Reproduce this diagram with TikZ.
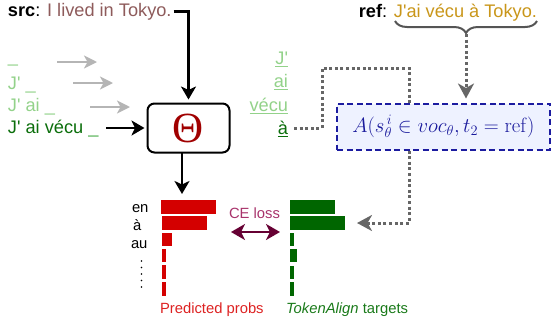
\documentclass[tikz,border=0pt]{standalone}
\usepackage[no-math]{fontspec}
\newfontfamily\arial{Liberation Sans}
\newfontfamily\serifth{Liberation Serif}
\usetikzlibrary{arrows.meta,decorations.pathreplacing,calc}
\definecolor{srcred}{HTML}{8E5B5B}
\definecolor{refgold}{HTML}{C9961A}
\definecolor{lgreen}{HTML}{93D28A}
\definecolor{dgreen}{HTML}{0B6E0B}
\definecolor{mgreen}{HTML}{4FAF4F}
\definecolor{barred}{HTML}{D40000}
\definecolor{bargreen}{HTML}{006600}
\definecolor{textred}{HTML}{DD2222}
\definecolor{textgreen}{HTML}{1A7A1A}
\definecolor{garrow}{HTML}{B5B5B5}
\definecolor{dotgray}{HTML}{666666}
\definecolor{boxblue}{HTML}{1C1CA0}
\definecolor{boxfill}{HTML}{EEF2FF}
\definecolor{formblue}{HTML}{1A1A9C}
\definecolor{cetext}{HTML}{A8336B}
\definecolor{cearrow}{HTML}{660033}
\definecolor{thetacol}{HTML}{A00000}
\definecolor{bracecol}{HTML}{555555}
\newcommand\myul[1]{\setbox0\hbox{#1}\rlap{\rule[-3.2pt]{\wd0}{1.4pt}}\box0}
\begin{document}
\begin{tikzpicture}[x=1pt,y=-1pt,
  font=\arial\fontsize{18.2}{21}\selectfont,
  txt/.style={inner sep=0pt, outer sep=0pt},
  small/.style={txt, font=\arial\fontsize{14.8}{17}\selectfont},
  blk/.style={draw=black, line width=2.5pt, -{Stealth[length=13pt,width=15pt,inset=3.5pt]}},
  gry/.style={draw=garrow, line width=2pt, -{Stealth[length=13pt,width=13pt,inset=3.5pt]}},
  dotl/.style={draw=dotgray, line width=3pt, dash pattern=on 3pt off 2.6pt},
  dotarr/.style={dotl, -{Stealth[length=15pt,width=16pt,inset=4.5pt]}},
  cearr/.style={draw=cearrow, line width=2.4pt, {Stealth[length=14pt,width=16pt,inset=4pt]}-{Stealth[length=14pt,width=16pt,inset=4pt]}},
  rbar/.style={rectangle, fill=barred, inner sep=0pt, outer sep=0pt, anchor=north west},
  gbar/.style={rectangle, fill=bargreen, inner sep=0pt, outer sep=0pt, anchor=north west},
  dotc/.style={fill=black, circle, inner sep=0pt, minimum size=1.9pt}]
\useasboundingbox (0,0) rectangle (552,325);

% source and reference
\node[txt, anchor=base west] (src) at (8,16) {\textbf{src}: \textcolor{srcred}{I lived in Tokyo.}};
\node[txt, anchor=base east] (ref) at (537,17) {\textbf{ref}: \textcolor{refgold}{J'ai vécu à Tokyo.}};

% Theta box
\node[draw=black, line width=2pt, rounded corners=7pt, minimum width=82pt, minimum height=49pt, inner sep=0pt,
      font=\serifth\fontsize{43}{45}\selectfont, text=thetacol] (theta) at (188.5,128) {Θ};

% left prefixes
\node[txt, anchor=base west, text=lgreen] (l1) at (8,62) {\_};
\node[txt, anchor=base west, text=lgreen] (l2) at (8,89) {J' \_};
\node[txt, anchor=base west, text=lgreen] (l3) at (8,111) {J' ai \_};
\node[txt, anchor=base west, text=dgreen] (l4) at (8,133) {J' ai vécu \textcolor{mgreen}{\_}};

\coordinate (a1s) at (57,62);  \coordinate (a1e) at (97,62);
\coordinate (a2s) at (73,83);  \coordinate (a2e) at (113,83);
\coordinate (a3s) at (90,107); \coordinate (a3e) at (130,107);
\coordinate (a4s) at (106,128);
\draw[gry] (a1s) -- (a1e);
\draw[gry] (a2s) -- (a2e);
\draw[gry] (a3s) -- (a3e);
\draw[blk, shorten >=2pt] (a4s) -- (theta.west);

\draw[blk, shorten >=3pt] ([xshift=2pt]src.east) -| (theta.north);

% right target tokens
\node[txt, anchor=base east, text=lgreen] (t1) at (288,64) {\myul{J'}};
\node[txt, anchor=base east, text=lgreen] (t2) at (288,87) {\myul{ai}};
\node[txt, anchor=base east, text=lgreen] (t3) at (288,111) {\myul{vécu}};
\node[txt, anchor=base east, text=dgreen] (t4) at (288,134) {\myul{à}};

% alignment box
\node[draw=boxblue, line width=2pt, dash pattern=on 6pt off 3.5pt, fill=boxfill, minimum width=213pt, minimum height=46pt,
      inner sep=0pt, text=formblue, font=\fontsize{20.5}{24}\selectfont] (fbox) at (443.5,126.5) {$A\big(s_\theta^{\,i}\in voc_\theta, t_2=\mathrm{ref}\big)$};

\coordinate (d0) at (294,128);
\draw[dotl] (d0) -- (322,128) -- (322,68) -| ([xshift=-34.5pt]fbox.north);

% brace
\draw[draw=bracecol, line width=2pt, decorate, decoration={brace, amplitude=12pt, mirror}] (395,21) -- (537,21);
\coordinate (bt) at (466,34);
\draw[dotarr, shorten >=4pt] (bt) -- (bt |- fbox.north);

% bars
\node[rbar, minimum width=55pt, minimum height=14pt] (pb1) at (161,200) {};
\node[rbar, minimum width=45pt, minimum height=14pt] (pb2) at (162,216) {};
\node[rbar, minimum width=10pt, minimum height=13pt] (pb3) at (162,233) {};
\node[rbar, minimum width=4pt, minimum height=13pt] (pb4) at (162,249) {};
\node[rbar, minimum width=4pt, minimum height=14pt] (pb5) at (162,265) {};
\node[rbar, minimum width=4pt, minimum height=14pt] (pb6) at (162,282) {};

\node[gbar, minimum width=45pt, minimum height=14pt] (gb1) at (290,200) {};
\node[gbar, minimum width=55pt, minimum height=14pt] (gb2) at (290,216) {};
\node[gbar, minimum width=4pt, minimum height=13pt] (gb3) at (290,233) {};
\node[gbar, minimum width=7pt, minimum height=13pt] (gb4) at (290,249) {};
\node[gbar, minimum width=4pt, minimum height=13pt] (gb5) at (290,266) {};
\node[gbar, minimum width=4pt, minimum height=14pt] (gb6) at (290,282) {};

% arrow from theta to bars
\coordinate (tb) at (182,153);
\draw[blk, shorten >=6pt] (tb) -- (tb |- pb1.north);

% token labels
\node[small, anchor=base west] (w1) at (132,212) {en};
\node[small, anchor=base west] (w2) at (133,230) {à};
\node[small, anchor=base west] (w3) at (131,248) {au};
\foreach \i/\yy in {1/261,2/267.5,3/274,4/280.5,5/287}{\node[dotc] (vd\i) at (141.5,\yy) {};}

% CE loss
\node[small, anchor=base, text=cetext] (ce) at (254.5,218) {CE loss};
\coordinate (ceL) at (231,232); \coordinate (ceR) at (280,232);
\draw[cearr] (ceL) -- (ceR);

% dotted from box to green bars
\draw[dotarr] ([xshift=-34.5pt]fbox.south) |- ([xshift=12pt]gb2.east);

% bottom labels
\node[small, anchor=base west, text=textred] (pl) at (160,313) {Predicted probs};
\node[small, anchor=base west, text=textgreen] (tl) at (286,313) {\textit{TokenAlign} targets};
\end{tikzpicture}
\end{document}
